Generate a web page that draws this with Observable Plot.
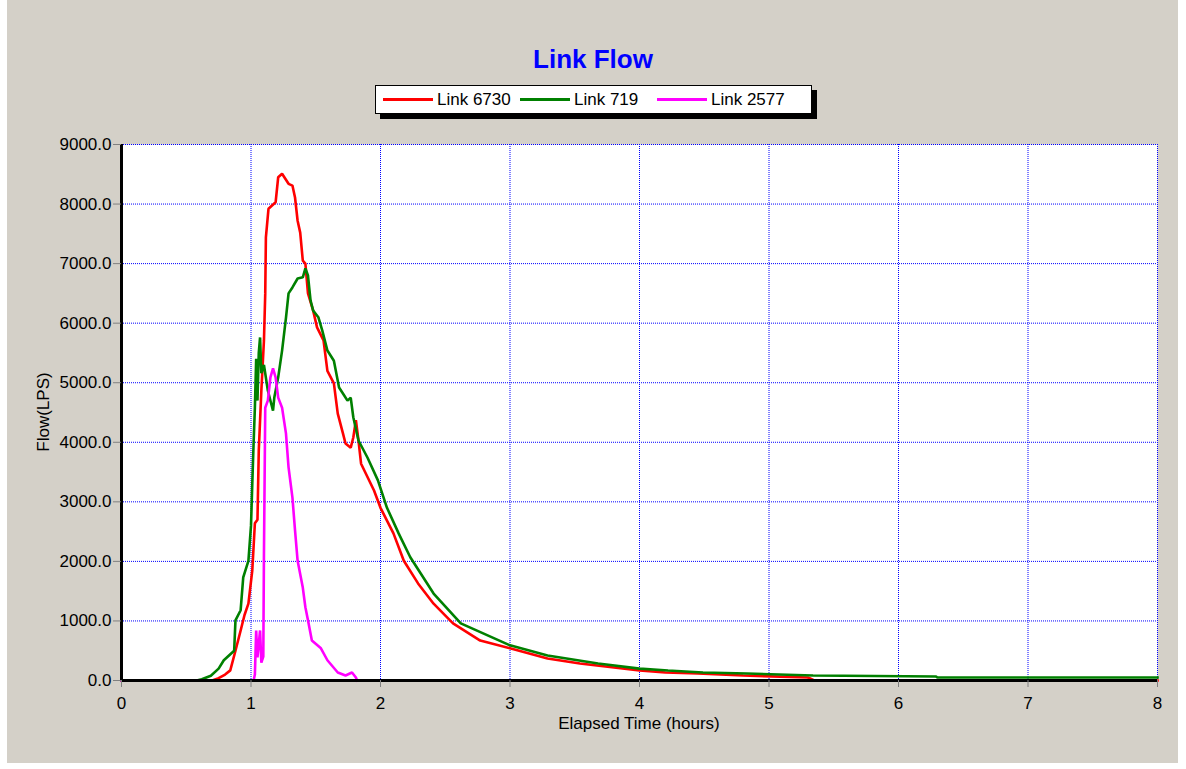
<!DOCTYPE html>
<html>
<head>
<meta charset="utf-8">
<script src="https://cdn.jsdelivr.net/npm/d3@7"></script>
<script src="https://cdn.jsdelivr.net/npm/@observablehq/plot@0.6"></script>
<style>
  html, body { margin: 0; padding: 0; background: #ffffff; }
  #wrap { position: relative; width: 1186px; height: 769px; overflow: hidden; font-family: "Liberation Sans", Arial, sans-serif; }
  #panel { position: absolute; left: 7px; top: 0px; width: 1171px; height: 763px; background: #d4d0c8; }
  #chart { position: absolute; left: 0; top: 0; }
  #title { position: absolute; left: 0; width: 1186px; top: 44px; text-align: center; color: #0000ff; font-weight: bold; font-size: 26px; }
  #legend { position: absolute; left: 375px; top: 85px; width: 435px; height: 27px; background: #fff; border: 1px solid #000; box-shadow: 5px 5px 0 #000; }
  .item { position: absolute; top: 0; height: 27px; display: flex; align-items: center; font-size: 17px; color: #000; }
  .swatch { width: 50px; height: 3px; margin-right: 4px; }
  #xlabel { position: absolute; left: 121px; width: 1036px; top: 714px; text-align: center; font-size: 17px; color: #000; }
  #ylabel { position: absolute; left: 44px; top: 412px; transform: translate(-50%, -50%) rotate(-90deg); font-size: 17px; color: #000; white-space: nowrap; }
</style>
</head>
<body>
<div id="wrap">
  <div id="panel"></div>
  <div id="chart"></div>
  <div id="title"></div>
  <div id="legend"></div>
  <div id="xlabel"></div>
  <div id="ylabel"></div>
</div>
<script>
const chartTitle = "Link Flow";
const xLabel = "Elapsed Time (hours)";
const yLabel = "Flow(LPS)";
const seriesNames = ["Link 6730", "Link 719", "Link 2577"];
const seriesColors = ["#ff0000", "#008000", "#ff00ff"];
const xTicks = [0, 1, 2, 3, 4, 5, 6, 7, 8];
const yTicks = [0, 1000, 2000, 3000, 4000, 5000, 6000, 7000, 8000, 9000];

// Link 6730 (hours, LPS)
const time6730 = [0, 0.70, 0.75, 0.80, 0.84, 0.88, 0.92, 0.95, 0.98, 1.01, 1.03, 1.05, 1.06, 1.08, 1.10, 1.11, 1.115, 1.135, 1.19, 1.21, 1.24, 1.29, 1.32, 1.34, 1.36, 1.38, 1.40, 1.42, 1.44, 1.48, 1.51, 1.56, 1.59, 1.64, 1.67, 1.71, 1.73, 1.77, 1.79, 1.81, 1.83, 1.85, 1.95, 2.00, 2.10, 2.18, 2.29, 2.41, 2.56, 2.77, 3.00, 3.29, 3.54, 4.00, 4.20, 4.45, 4.80, 5.30, 5.35, 8.00];
const flow6730 = [0, 0, 40, 100, 170, 500, 840, 1100, 1290, 1850, 2640, 2700, 3860, 4870, 5710, 6500, 7440, 7920, 8030, 8450, 8510, 8340, 8310, 8110, 7720, 7520, 7050, 7000, 6500, 6210, 5930, 5710, 5200, 4990, 4480, 4150, 3980, 3910, 4080, 4370, 4030, 3640, 3190, 2900, 2470, 2010, 1630, 1290, 960, 670, 540, 370, 285, 168, 134, 118, 84, 50, 0, 0];

// Link 719
const time719 = [0, 0.58, 0.62, 0.69, 0.75, 0.79, 0.87, 0.88, 0.92, 0.94, 0.98, 1.00, 1.01, 1.02, 1.03, 1.04, 1.05, 1.06, 1.07, 1.08, 1.10, 1.13, 1.17, 1.18, 1.21, 1.24, 1.27, 1.29, 1.32, 1.36, 1.40, 1.42, 1.44, 1.46, 1.48, 1.52, 1.55, 1.59, 1.64, 1.68, 1.71, 1.745, 1.77, 1.79, 1.83, 1.90, 1.98, 2.05, 2.14, 2.23, 2.41, 2.62, 3.00, 3.29, 3.68, 4.00, 4.22, 4.49, 4.83, 5.34, 6.29, 6.30, 8.00];
const flow719 = [0, 0, 20, 80, 200, 340, 500, 1010, 1180, 1730, 2010, 2600, 3310, 3980, 4580, 5400, 4700, 5500, 5760, 5160, 5300, 4870, 4530, 4750, 5090, 5540, 6090, 6500, 6600, 6750, 6770, 6920, 6800, 6380, 6210, 6100, 5880, 5540, 5370, 4920, 4820, 4700, 4750, 4420, 4030, 3740, 3360, 2900, 2470, 2070, 1460, 960, 590, 420, 285, 200, 168, 134, 118, 84, 67, 50, 50];

// Link 2577
const time2577 = [0, 1.02, 1.03, 1.04, 1.05, 1.07, 1.08, 1.095, 1.10, 1.11, 1.13, 1.15, 1.17, 1.19, 1.21, 1.24, 1.27, 1.29, 1.32, 1.34, 1.36, 1.40, 1.42, 1.44, 1.47, 1.54, 1.59, 1.67, 1.73, 1.78, 1.81, 1.82];
const flow2577 = [0, 0, 100, 840, 390, 840, 300, 400, 2130, 4580, 4700, 5090, 5240, 5090, 4750, 4580, 4150, 3580, 3070, 2520, 2010, 1560, 1230, 1010, 670, 540, 340, 134, 84, 134, 50, 0];

const seriesTimes = [time6730, time719, time2577];
const seriesFlows = [flow6730, flow719, flow2577];
const rows = seriesNames.flatMap((name, i) => seriesTimes[i].map((t, j) => ({series: name, t, q: seriesFlows[i][j]})));

document.getElementById("title").textContent = chartTitle;
document.getElementById("xlabel").textContent = xLabel;
document.getElementById("ylabel").textContent = yLabel;

const legend = document.getElementById("legend");
const itemLefts = [7, 144, 281];
seriesNames.forEach((name, i) => {
  const it = document.createElement("div");
  it.className = "item";
  it.style.left = itemLefts[i] + "px";
  const sw = document.createElement("div");
  sw.className = "swatch";
  sw.style.background = seriesColors[i];
  const tx = document.createElement("span");
  tx.textContent = name;
  it.appendChild(sw); it.appendChild(tx);
  legend.appendChild(it);
});

const chart = Plot.plot({
  width: 1186,
  height: 769,
  marginLeft: 121,
  marginRight: 29,
  marginTop: 144,
  marginBottom: 89,
  style: {background: "transparent", fontFamily: "'Liberation Sans', Arial, sans-serif", fontSize: "17px", color: "#000"},
  x: {domain: [0, 8]},
  y: {domain: [0, 9000]},
  color: {domain: seriesNames, range: seriesColors},
  marks: [
    Plot.frame({fill: "#ffffff", stroke: "none"}),
    Plot.gridX(xTicks.filter(d => d > 0), {stroke: "#0000ff", strokeOpacity: 1, strokeWidth: 1, strokeDasharray: "1,1"}),
    Plot.gridY(yTicks.filter(d => d > 0), {stroke: "#0000ff", strokeOpacity: 1, strokeWidth: 1, strokeDasharray: "1,1"}),
    Plot.line(rows, {x: "t", y: "q", z: "series", stroke: "series", strokeWidth: 2.6, strokeLinejoin: "miter", strokeLinecap: "square"}),
    Plot.ruleX([0], {stroke: "#000", strokeWidth: 3}),
    Plot.ruleY([0], {stroke: "#000", strokeWidth: 3}),
    Plot.axisX(xTicks, {tickSize: 7, tickPadding: 9, stroke: "#808080", fill: "#000", label: null, fontSize: 17, tickFormat: d => String(d)}),
    Plot.axisY(yTicks, {tickSize: 8, tickPadding: 2, stroke: "#808080", fill: "#000", label: null, fontSize: 17, tickFormat: d => d.toFixed(1)})
  ]
});
document.getElementById("chart").appendChild(chart);
</script>
</body>
</html>
